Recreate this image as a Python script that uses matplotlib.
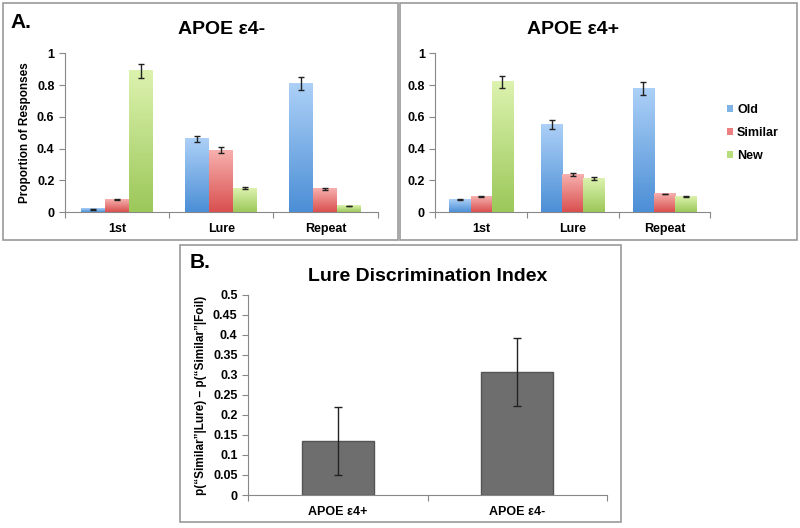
import matplotlib.pyplot as plt
import matplotlib.patches as mpatches
from matplotlib.colors import LinearSegmentedColormap
import numpy as np

plt.rcParams['font.family'] = ['Liberation Sans', 'DejaVu Sans']
plt.rcParams['font.weight'] = 'bold'

# data
categories = ["1st", "Lure", "Repeat"]
series = ["Old", "Similar", "New"]
colors = ["#7fb2e5", "#ec7f7f", "#b7de7a"]
# bottom -> top shades for the gradient fill
shades = [("#4c8fd6", "#acd0f7"), ("#d9504f", "#f6b0ae"), ("#9cc85a", "#dcf2ae")]

neg_vals = [[0.02, 0.46, 0.81], [0.08, 0.39, 0.145], [0.89, 0.15, 0.04]]
neg_err = [[0.003, 0.02, 0.04], [0.004, 0.02, 0.006], [0.045, 0.006, 0.002]]

pos_vals = [[0.08, 0.55, 0.78], [0.10, 0.235, 0.115], [0.82, 0.21, 0.10]]
pos_err = [[0.003, 0.028, 0.04], [0.004, 0.01, 0.003], [0.04, 0.01, 0.005]]

ldi_groups = ["APOE ε4+", "APOE ε4-"]
ldi_vals = [0.136, 0.308]
ldi_err = [0.085, 0.085]

fig = plt.figure(figsize=(8, 5.28), dpi=100)

# panel frames
for (x0, y0, x1, y1) in [(3, 3, 398, 240), (400, 3, 797, 240), (180, 245, 621, 522)]:
    fig.patches.append(mpatches.Rectangle((x0 / 800, 1 - y1 / 528), (x1 - x0) / 800, (y1 - y0) / 528,
                                          transform=fig.transFigure, fill=False,
                                          edgecolor="#9a9a9a", linewidth=1.2))

grad = np.linspace(0, 1, 64).reshape(-1, 1)


def group_panel(ax, vals, errs, title):
    x = np.arange(len(categories)) + 0.5
    w = 0.23
    for i in range(len(series)):
        bars = ax.bar(x + (i - 1) * w, vals[i], w, yerr=errs[i], color=colors[i], label=series[i],
                      error_kw=dict(ecolor="#222222", elinewidth=1, capsize=2.5, capthick=1, zorder=4))
        cm = LinearSegmentedColormap.from_list("g%d" % i, list(shades[i]))
        for b in bars:
            bx, bw, bh = b.get_x(), b.get_width(), b.get_height()
            ax.imshow(grad, extent=[bx, bx + bw, 0, bh], origin="lower", aspect="auto",
                      cmap=cm, zorder=3, interpolation="bilinear")
    ax.set_xlim(0, 3)
    ax.set_ylim(0, 1)
    ax.set_yticks([0, 0.2, 0.4, 0.6, 0.8, 1])
    ax.set_yticklabels(["0", "0.2", "0.4", "0.6", "0.8", "1"])
    ax.set_xticks([0, 1, 2, 3])
    ax.set_xticklabels([])
    ax.set_xticks(x, minor=True)
    ax.set_xticklabels(categories, minor=True)
    ax.tick_params(axis="x", which="minor", length=0, pad=8, labelsize=9)
    ax.tick_params(axis="x", which="major", length=4, color="#888888")
    ax.tick_params(axis="y", labelsize=9, length=4, color="#888888")
    for s in ["top", "right"]:
        ax.spines[s].set_visible(False)
    ax.spines["left"].set_color("#888888")
    ax.spines["bottom"].set_color("#888888")
    ax.set_title(title, fontsize=14, fontweight="bold", pad=14)


ax1 = fig.add_axes([0.081, 0.598, 0.391, 0.301])
group_panel(ax1, neg_vals, neg_err, "APOE ε4-")
ax1.set_ylabel("Proportion of Responses", fontsize=8.5, fontweight="bold")

ax2 = fig.add_axes([0.544, 0.598, 0.344, 0.301])
group_panel(ax2, pos_vals, pos_err, "APOE ε4+")
ax2.legend(loc="center left", bbox_to_anchor=(1.02, 0.5), frameon=False, fontsize=9,
           handlelength=0.5, handleheight=0.5, handletextpad=0.3, labelspacing=0.9)

ax3 = fig.add_axes([0.31, 0.0625, 0.449, 0.379])
xb = np.arange(len(ldi_groups)) + 0.5
ax3.bar(xb, ldi_vals, 0.4, yerr=ldi_err, color="#6e6e6e", edgecolor="#555555", linewidth=1,
        error_kw=dict(ecolor="#222222", elinewidth=1, capsize=3, capthick=1))
ax3.set_xlim(0, 2)
ax3.set_ylim(0, 0.5)
ax3.set_yticks(np.arange(0, 0.51, 0.05))
ax3.set_yticklabels(["0", "0.05", "0.1", "0.15", "0.2", "0.25", "0.3", "0.35", "0.4", "0.45", "0.5"])
ax3.set_xticks([0, 1, 2])
ax3.set_xticklabels([])
ax3.set_xticks(xb, minor=True)
ax3.set_xticklabels(ldi_groups, minor=True)
ax3.tick_params(axis="x", which="minor", length=0, pad=8, labelsize=9)
ax3.tick_params(axis="x", which="major", length=4, color="#888888")
ax3.tick_params(axis="y", labelsize=9, length=4, color="#888888")
for s in ["top", "right"]:
    ax3.spines[s].set_visible(False)
ax3.spines["left"].set_color("#888888")
ax3.spines["bottom"].set_color("#888888")
ax3.set_ylabel("p(\u201cSimilar\u201d|Lure) \u2013 p(\u201cSimilar\u201d|Foil)", fontsize=8.5, fontweight="bold")
ax3.set_title("Lure Discrimination Index", fontsize=14, fontweight="bold", pad=10)

fig.text(10 / 800, 1 - 22 / 528, "A.", fontsize=15, fontweight="bold", va="center")
fig.text(190 / 800, 1 - 262 / 528, "B.", fontsize=15, fontweight="bold", va="center")

fig.savefig("out.png", dpi=100)
